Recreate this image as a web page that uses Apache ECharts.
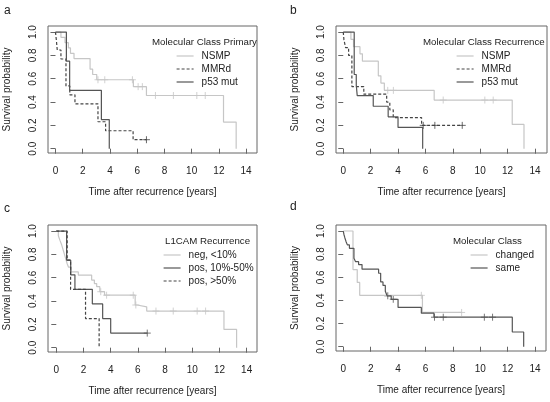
<!DOCTYPE html>
<html>
<head>
<meta charset="utf-8">
<script src="https://cdn.jsdelivr.net/npm/echarts@6/dist/echarts.min.js"></script>
<style>
html, body { margin: 0; padding: 0; background: #fff; }
#main { width: 550px; height: 402px; }
</style>
</head>
<body>
<div id="main"></div>
<script>
// tick labels
var xTicks = [0, 2, 4, 6, 8, 10, 12, 14];
var yTicks = [0, 0.2, 0.4, 0.6, 0.8, 1.0];

// a: Molecular Class Primary
var aNsmp = [[0,1],[0.4,0.955],[0.7,0.909],[0.95,0.864],[1.1,0.818],[1.36,0.773],[2.54,0.682],[2.73,0.636],[3.03,0.591],[5.72,0.532],[6.68,0.456],[12.34,0.228],[13.27,0]];
var aNsmpCens = [[3.12,0.591],[3.62,0.591],[5.65,0.591],[6.07,0.532],[6.38,0.532],[7.34,0.456],[8.66,0.456],[10.38,0.456],[11.0,0.456]];
var aMmrd = [[0,1],[0.07,0.923],[0.13,0.846],[0.4,0.769],[0.77,0.538],[1.05,0.462],[1.43,0.385],[3.12,0.231],[3.68,0.154],[5.7,0.077],[6.68,0.077]];
var aMmrdCens = [[6.68,0.077]];
var aP53 = [[0,1],[0.8,0.75],[1.04,0.5],[3.37,0.25],[3.95,0]];

// b: Molecular Class Recurrence
var bNsmp = [[0,1],[0.56,0.938],[0.75,0.875],[1.22,0.813],[1.4,0.75],[2.56,0.625],[2.75,0.563],[3.0,0.5],[6.64,0.417],[12.34,0.208],[13.2,0]];
var bNsmpCens = [[3.25,0.5],[3.66,0.5],[7.3,0.417],[10.34,0.417],[10.95,0.417]];
var bMmrd = [[0,1],[0.05,0.933],[0.17,0.867],[0.39,0.8],[0.63,0.533],[1.5,0.467],[3.17,0.4],[3.4,0.333],[3.65,0.267],[5.72,0.2],[8.69,0.2]];
var bMmrdCens = [[5.84,0.2],[6.69,0.2],[8.69,0.2]];
var bP53 = [[0,1],[0.8,0.636],[0.95,0.545],[1.02,0.455],[2.19,0.364],[3.28,0.273],[4.0,0.182],[5.8,0]];

// c: L1CAM Recurrence
var cNeg = [[0,1],[0.15,0.96],[0.27,0.92],[0.4,0.88],[0.5,0.84],[0.6,0.8],[0.7,0.76],[0.8,0.72],[0.9,0.69],[1.1,0.65],[1.62,0.623],[2.6,0.58],[2.8,0.55],[2.97,0.523],[3.2,0.48],[3.55,0.45],[5.8,0.366],[5.95,0.35],[6.65,0.314],[12.33,0.157],[13.26,0]];
var cNegCens = [[3.27,0.48],[3.7,0.45],[5.66,0.45],[5.85,0.366],[7.33,0.314],[8.6,0.314],[10.36,0.314],[10.98,0.314]];
var cPosMid = [[0,1],[0.76,0.75],[1.06,0.625],[1.37,0.5],[2.65,0.375],[3.41,0.25],[4.0,0.125],[6.69,0.125]];
var cPosMidCens = [[6.69,0.125]];
var cPosHigh = [[0,1],[0.8,0.75],[1.05,0.5],[2.15,0.25],[3.15,0]];

// d: Molecular Class
var dChanged = [[0,1],[0.71,0.667],[1.02,0.556],[1.2,0.444],[5.78,0.296],[8.64,0.296]];
var dChangedCens = [[5.7,0.444],[8.64,0.296]];
var dSame = [[0,1],[0.05,0.97],[0.12,0.94],[0.2,0.91],[0.3,0.88],[0.45,0.85],[0.78,0.765],[0.9,0.735],[1.12,0.71],[1.37,0.67],[2.58,0.635],[2.73,0.56],[2.9,0.53],[3.07,0.48],[3.2,0.44],[3.5,0.41],[4.0,0.34],[5.7,0.29],[6.62,0.255],[12.34,0.127],[13.17,0]];
var dSameCens = [[3.25,0.44],[3.65,0.41],[6.66,0.255],[7.3,0.255],[10.3,0.255],[10.9,0.255]];

var light = '#c6c6c6', dark = '#555555', dash = '#444444';
var font = "'Liberation Sans', Arial, sans-serif";
var txt = '#222';
var plus = 'path://M0,5L10,5M5,0L5,10';

var grids = [
  {left: 48, top: 26, width: 209, height: 127},
  {left: 336, top: 26, width: 211, height: 127},
  {left: 48, top: 225, width: 209, height: 127},
  {left: 336, top: 225, width: 210, height: 126}
];
var xRange = [[-0.55, 14.8], [-0.53, 14.88], [-0.61, 14.76], [-0.53, 14.8]];

function xAx(i) {
  return {
    type: 'value', gridIndex: i, min: xRange[i][0], max: xRange[i][1],
    splitLine: {show: false}, axisLine: {show: false},
    axisTick: {show: true, customValues: xTicks, length: 5, lineStyle: {color: '#666'}},
    axisLabel: {customValues: xTicks, margin: 13, fontSize: 10, color: txt, fontFamily: font},
    name: 'Time after recurrence [years]', nameLocation: 'middle', nameGap: 34,
    nameTextStyle: {fontSize: 10, color: txt, fontFamily: font}
  };
}
function yAx(i) {
  return {
    type: 'value', gridIndex: i, min: -0.037, max: 1.052,
    splitLine: {show: false}, axisLine: {show: false},
    axisTick: {show: true, customValues: yTicks, length: 5, lineStyle: {color: '#666'}},
    axisLabel: {customValues: yTicks, rotate: 90, margin: 10, fontSize: 10, color: txt, fontFamily: font,
      formatter: function (v) { return v.toFixed(1); }},
    name: 'Survival probability', nameLocation: 'middle', nameGap: 36,
    nameTextStyle: {fontSize: 10, color: txt, fontFamily: font}
  };
}
function km(name, i, data, color, type) {
  return {
    name: name, type: 'line', step: 'end', xAxisIndex: i, yAxisIndex: i, data: data,
    symbol: 'none', showSymbol: false, silent: true,
    lineStyle: {color: color, width: 1.2, type: type || 'solid'},
    itemStyle: {color: color}, emphasis: {disabled: true}
  };
}
function cens(name, i, data, color) {
  return {
    name: name, type: 'scatter', xAxisIndex: i, yAxisIndex: i, data: data,
    symbol: plus, symbolSize: 7, silent: true,
    itemStyle: {color: 'none', borderColor: color, borderWidth: 1},
    emphasis: {disabled: true}
  };
}
function leg(names, left, top) {
  return {
    data: names, left: left, top: top, orient: 'vertical', itemWidth: 17, itemHeight: 10,
    itemGap: 3, padding: 0, selectedMode: false, itemStyle: {opacity: 0},
    lineStyle: {width: 1.2},
    textStyle: {fontSize: 10, color: txt, fontFamily: font, padding: [0, 0, 0, 3]}
  };
}
function ttl(text, left, top, size) {
  return {text: text, left: left, top: top, padding: 0,
    textStyle: {fontSize: size, fontWeight: 'normal', color: txt, fontFamily: font}};
}

var chart = echarts.init(document.getElementById('main'));
chart.setOption({
  animation: false,
  backgroundColor: '#fff',
  title: [
    ttl('a', 4, 5, 12), ttl('b', 290, 5, 12), ttl('c', 4, 203, 12), ttl('d', 290, 201, 12),
    ttl('Molecular Class Primary', 152, 37, 9.7),
    ttl('Molecular Class Recurrence', 423, 37, 9.7),
    ttl('L1CAM Recurrence', 165, 236, 9.7),
    ttl('Molecular Class', 453, 236, 9.7)
  ],
  legend: [
    leg(['NSMP', 'MMRd', 'p53 mut'], 176, 51),
    leg(['NSMP ', 'MMRd ', 'p53 mut '], 456, 51),
    leg(['neg, <10%', 'pos, 10%-50%', 'pos, >50%'], 163, 250),
    leg(['changed', 'same'], 470, 250)
  ],
  grid: grids.map(function (g) {
    return {left: g.left, top: g.top, width: g.width, height: g.height, show: true,
      borderColor: '#666', borderWidth: 1, backgroundColor: 'transparent', containLabel: false};
  }),
  xAxis: [xAx(0), xAx(1), xAx(2), xAx(3)],
  yAxis: [yAx(0), yAx(1), yAx(2), yAx(3)],
  series: [
    km('NSMP', 0, aNsmp, light), cens('aNsmpC', 0, aNsmpCens, light),
    km('MMRd', 0, aMmrd, dash, [3, 2]), cens('aMmrdC', 0, aMmrdCens, dash),
    km('p53 mut', 0, aP53, dark),

    km('NSMP ', 1, bNsmp, light), cens('bNsmpC', 1, bNsmpCens, light),
    km('MMRd ', 1, bMmrd, dash, [3, 2]), cens('bMmrdC', 1, bMmrdCens, dash),
    km('p53 mut ', 1, bP53, dark),

    km('neg, <10%', 2, cNeg, light), cens('cNegC', 2, cNegCens, light),
    km('pos, 10%-50%', 2, cPosMid, dark), cens('cPosMidC', 2, cPosMidCens, dark),
    km('pos, >50%', 2, cPosHigh, dash, [3, 2]),

    km('changed', 3, dChanged, light), cens('dChangedC', 3, dChangedCens, light),
    km('same', 3, dSame, dark), cens('dSameC', 3, dSameCens, dark)
  ]
});
</script>
</body>
</html>
